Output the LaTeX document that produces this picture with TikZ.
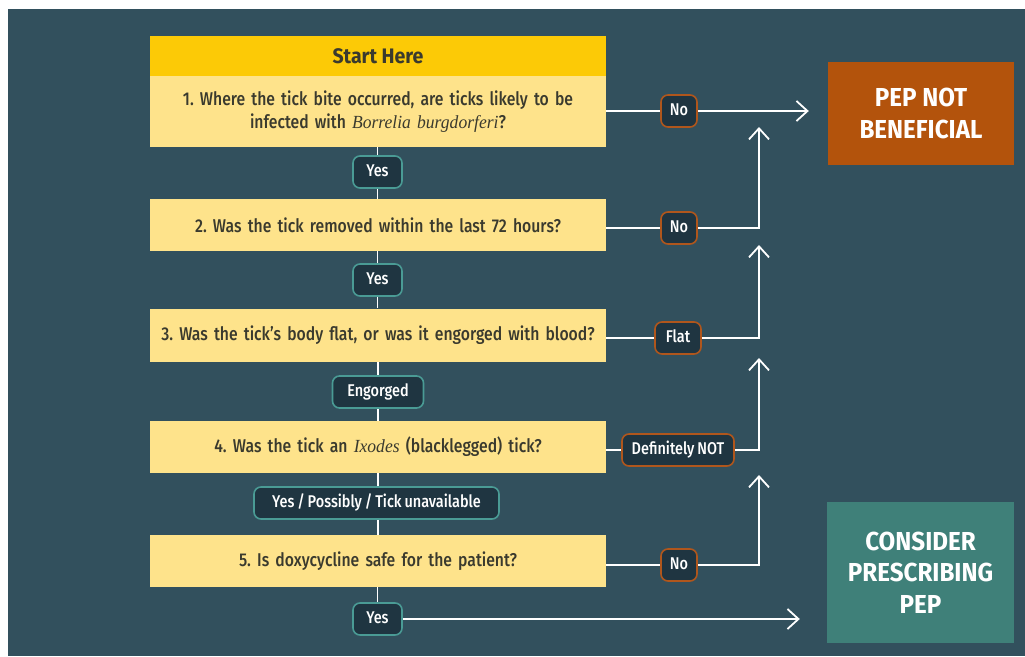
\documentclass[tikz,border=0pt]{standalone}
\usepackage{fontspec}
\setmainfont{Fira Sans Medium}[FakeStretch=0.85, WordSpace=0.8, BoldFont={Fira Sans Bold}]
\newfontfamily\hfont{Fira Sans Bold}[FakeStretch=0.93]
\newfontfamily\serifit{Liberation Serif Italic}[FakeStretch=0.95]
\usetikzlibrary{arrows.meta}
\frenchspacing
\definecolor{bgc}{HTML}{32505D}
\definecolor{gold}{HTML}{FCCA06}
\definecolor{qyel}{HTML}{FEE38B}
\definecolor{qtxt}{HTML}{3A3A2E}
\definecolor{bdark}{HTML}{1F3541}
\definecolor{bteal}{HTML}{4A9B95}
\definecolor{borange}{HTML}{B0561C}
\definecolor{pepc}{HTML}{B3530C}
\definecolor{consc}{HTML}{3F8079}
\tikzset{
  qbox/.style={fill=qyel, minimum width=456pt, text width=450pt, align=center, inner sep=0pt, text=qtxt, font=\fontsize{18.5}{22.5}\selectfont},
  badge/.style={fill=bdark, rounded corners=7pt, line width=1.6pt, text=white, font=\fontsize{17}{19}\selectfont, minimum height=32pt, inner sep=0pt, text height=12.5pt, text depth=3.5pt},
  gbadge/.style={badge, draw=bteal},
  obadge/.style={badge, draw=borange},
  wl/.style={draw=white, line width=1.8pt},
  arr/.style={wl, -{Straight Barb[length=11pt,width=20pt]}},
  outbox/.style={text=white, align=center, inner sep=0pt, font=\hfont\fontsize{26}{32.5}\selectfont}
}
\begin{document}
\begin{tikzpicture}[x=1pt,y=-1pt]
\useasboundingbox (0,0) rectangle (1025,656);
\fill[white] (0,0) rectangle (1025,656);
\fill[bgc] (8,9) rectangle (1025,656);

% header and questions
\node[fill=gold, minimum width=456pt, minimum height=40pt, inner sep=0pt, text=qtxt, font=\hfont\fontsize{21}{24}\selectfont] (hdr) at (378,56) {Start Here};
\node[qbox, minimum height=71pt] (q1) at (378,111.5) {1. Where the tick bite occurred, are ticks likely to be\\ infected with {\serifit\fontsize{18.5}{22}\selectfont Borrelia burgdorferi}?};
\node[qbox, minimum height=52pt] (q2) at (378,225) {2. Was the tick removed within the last 72 hours?};
\node[qbox, minimum height=53pt] (q3) at (378,335) {3. Was the tick's body flat, or was it engorged with blood?};
\node[qbox, minimum height=52pt] (q4) at (378,447) {4. Was the tick an {\serifit\fontsize{18.5}{22}\selectfont Ixodes} (blacklegged) tick?};
\node[qbox, minimum height=52pt] (q5) at (378,561) {5. Is doxycycline safe for the patient?};

% yes badges
\node[gbadge, minimum width=49pt] (y1) at (377.5,172) {Yes};
\node[gbadge, minimum width=49pt] (y2) at (377.5,280) {Yes};
\node[gbadge, minimum width=91pt] (eng) at (378,392) {Engorged};
\node[gbadge, minimum width=245pt] (ypt) at (376.5,503) {Yes / Possibly / Tick unavailable};
\node[gbadge, minimum width=49pt] (y5) at (377.5,619) {Yes};

% no badges
\node[obadge, minimum width=36pt] (n1) at (679,111) {No};
\node[obadge, minimum width=36pt] (n2) at (679,228) {No};
\node[obadge, minimum width=46pt] (fl) at (678,338) {Flat};
\node[obadge, minimum width=112pt] (dn) at (678,450) {Definitely NOT};
\node[obadge, minimum width=36pt] (n3) at (679,565) {No};

% outcomes
\node[fill=pepc, minimum width=186pt, minimum height=103pt, outbox] (pep) at (921,113.5) {PEP NOT\\BENEFICIAL};
\node[fill=consc, minimum width=187pt, minimum height=141pt, outbox, font=\hfont\fontsize{26}{31.5}\selectfont] (cons) at (920.5,572.5) {CONSIDER\\PRESCRIBING\\PEP};

% arrow tip coordinates
\coordinate (t2) at (759,127);
\coordinate (t3) at (759,245);
\coordinate (t4) at (759,358);
\coordinate (t5) at (759,475);

% vertical connectors
\draw[wl] (q1.south -| y1) -- (y1.north);
\draw[wl] (y1.south) -- (q2.north -| y1);
\draw[wl] (q2.south -| y2) -- (y2.north);
\draw[wl] (y2.south) -- (q3.north -| y2);
\draw[wl] (q3.south -| eng) -- (eng.north);
\draw[wl] (eng.south) -- (q4.north -| eng);
\draw[wl] (q4.south -| eng) -- (ypt.north -| eng);
\draw[wl] (ypt.south -| eng) -- (q5.north -| eng);
\draw[wl] (q5.south -| y5) -- (y5.north);

% right-side connectors
\draw[wl] (q1.east |- n1) -- (n1.west);
\draw[arr, shorten >=19pt] (n1.east) -- (n1.east -| pep.west);
\draw[wl] (q2.east |- n2) -- (n2.west);
\draw[arr] (n2.east) -| (t2);
\draw[wl] (q3.east |- fl) -- (fl.west);
\draw[arr] (fl.east) -| (t3);
\draw[wl] (q4.east |- dn) -- (dn.west);
\draw[arr] (dn.east) -| (t4);
\draw[wl] (q5.east |- n3) -- (n3.west);
\draw[arr] (n3.east) -| (t5);
\draw[arr, shorten >=27pt] (y5.east) -- (y5.east -| cons.west);
\end{tikzpicture}
\end{document}
